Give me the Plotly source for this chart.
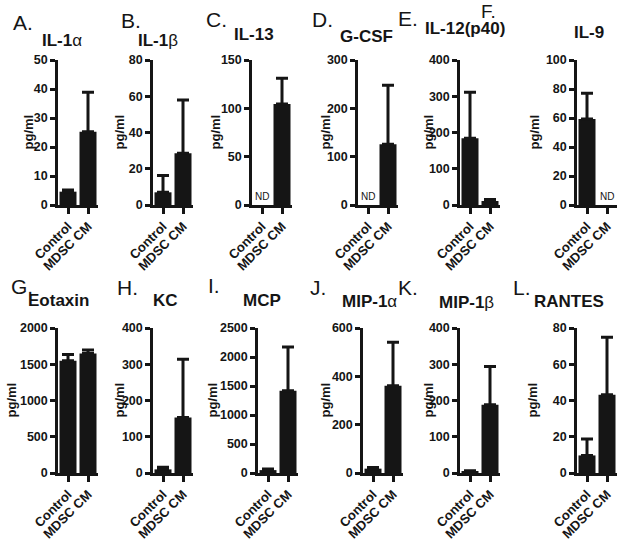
import plotly.graph_objects as go

# ---- data ----
letters = ["A.", "B.", "C.", "D.", "E.", "F.", "G.", "H.", "I.", "J.", "K.", "L."]
titles = ["<b>IL-1</b>α", "<b>IL-1</b>β", "<b>IL-13</b>", "<b>G-CSF</b>", "<b>IL-12(p40)</b>", "<b>IL-9</b>",
          "<b>Eotaxin</b>", "<b>KC</b>", "<b>MCP</b>", "<b>MIP-1</b>α", "<b>MIP-1</b>β", "<b>RANTES</b>"]
categories = ["Control", "MDSC CM"]
control_mean = [4.6, 7.0, None, None, 184, 59.3, 1550, 10, 50, 18, 4, 9.7]
control_err = [0.6, 9.3, None, None, 127, 17.7, 85, 6, 20, 5, 2, 9.1]
mdsc_mean = [25.3, 28.5, 104.5, 125.5, 11, None, 1650, 153, 1420, 361, 188, 43.2]
mdsc_err = [13.6, 29.4, 26.5, 122.5, 4, None, 45, 161, 752, 180, 106, 31.7]
y_max = [50, 80, 150, 300, 400, 100, 2000, 400, 2500, 600, 400, 80]
y_dtick = [10, 20, 50, 100, 100, 20, 500, 100, 500, 200, 100, 20]
nd_label = "ND"
y_title = "pg/ml"

# ---- layout geometry (pixels) ----
W, H = 624, 545
x_start = [58, 153, 252, 358, 460, 577, 58, 153, 258, 363, 460, 577]
plot_w = 40
row_top = [60, 328]
row_bot = [205, 473]
letter_pos = [(23, 22), (131, 21), (216, 19), (322, 19), (408, 18), (488, 11),
              (22, 286), (127, 287), (214, 285), (318, 287), (408, 287), (522, 287)]
title_pos = [(62, 41), (158, 40), (254, 34), (366, 36), (465, 29), (589, 33),
             (58, 300), (165, 300), (262, 300), (369, 301), (466, 302), (569, 301)]
ytitle_x = [28, 119, 215, 325, 428, 534, 11, 119, 212, 325, 428, 532]

FONT = "Arial, Liberation Sans, sans-serif"
INK = "#151515"

fig = go.Figure()
layout = {}
annotations = []

for i in range(12):
    sfx = "" if i == 0 else str(i + 1)
    row = 0 if i < 6 else 1
    yv = [control_mean[i], mdsc_mean[i]]
    ev = [control_err[i] if control_err[i] is not None else 0,
          mdsc_err[i] if mdsc_err[i] is not None else 0]
    fig.add_trace(go.Bar(
        x=categories, y=yv, width=0.85,
        marker=dict(color=INK, line=dict(width=0)),
        error_y=dict(type="data", symmetric=False, array=ev, arrayminus=[0, 0],
                     color=INK, thickness=3, width=6, visible=True),
        xaxis="x" + sfx, yaxis="y" + sfx, showlegend=False, hoverinfo="skip"))

    x0 = x_start[i]
    layout["xaxis" + sfx] = dict(
        domain=[x0 / W, (x0 + plot_w) / W], anchor="y" + sfx, automargin=False,
        type="category", range=[-0.5, 1.5],
        showline=True, linewidth=2.5, linecolor=INK,
        ticks="outside", ticklen=6, tickwidth=2.5, tickcolor=INK,
        tickangle=-45, tickfont=dict(family=FONT, size=13, color=INK, weight="bold"),
        showgrid=False, zeroline=False, fixedrange=True)
    layout["yaxis" + sfx] = dict(
        domain=[1 - row_bot[row] / H, 1 - row_top[row] / H], anchor="x" + sfx, automargin=False,
        range=[0, y_max[i]], tick0=0, dtick=y_dtick[i],
        showline=True, linewidth=2.5, linecolor=INK,
        ticks="outside", ticklen=5, tickwidth=2.5, tickcolor=INK,
        tickfont=dict(family=FONT, size=12.5, color=INK, weight="bold"),
        showgrid=False, zeroline=False, fixedrange=True)

    lx, ly = letter_pos[i]
    annotations.append(dict(text=letters[i], x=lx / W, y=1 - ly / H, xref="paper", yref="paper",
                            xanchor="center", yanchor="middle", showarrow=False,
                            font=dict(family=FONT, size=21 if i != 5 else 19, color=INK)))
    tx, ty = title_pos[i]
    annotations.append(dict(text=titles[i], x=tx / W, y=1 - ty / H, xref="paper", yref="paper",
                            xanchor="center", yanchor="middle", showarrow=False,
                            font=dict(family=FONT, size=17, color=INK)))
    ymid = (row_top[row] + row_bot[row]) / 2
    annotations.append(dict(text="<b>" + y_title + "</b>", x=ytitle_x[i] / W, y=1 - ymid / H,
                            xref="paper", yref="paper", textangle=-90,
                            xanchor="center", yanchor="middle", showarrow=False,
                            font=dict(family=FONT, size=13, color=INK)))
    for k, m in enumerate(yv):
        if m is None:
            annotations.append(dict(text=nd_label, x=categories[k], y=0, xref="x" + sfx, yref="y" + sfx,
                                    xanchor="center", yanchor="bottom", showarrow=False, yshift=1,
                                    font=dict(family=FONT, size=10, color=INK)))

fig.update_layout(**layout)
fig.update_layout(
    width=W, height=H, margin=dict(l=0, r=0, t=0, b=0),
    paper_bgcolor="white", plot_bgcolor="rgba(0,0,0,0)",
    bargap=0.15, annotations=annotations, showlegend=False)

fig.write_html("out.html", config={"displayModeBar": False},
               post_script="document.body.style.margin='0';document.body.style.overflow='hidden';")
